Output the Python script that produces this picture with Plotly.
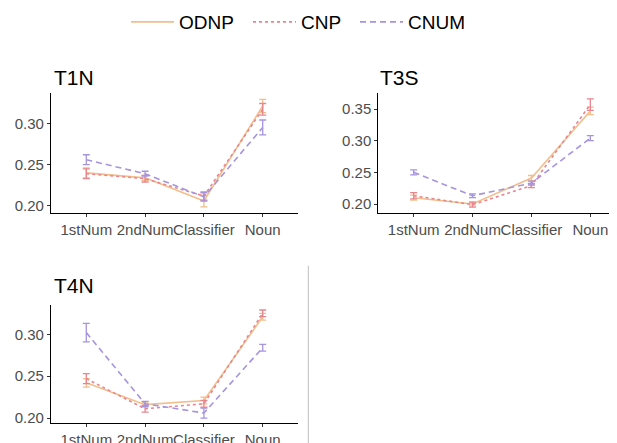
import plotly.graph_objects as go

categories = ["1stNum", "2ndNum", "Classifier", "Noun"]
series_names = ["ODNP", "CNP", "CNUM"]

# T1N
t1n_odnp = [0.240, 0.234, 0.206, 0.321]
t1n_odnp_se = [0.006, 0.003, 0.007, 0.008]
t1n_cnp = [0.239, 0.233, 0.212, 0.317]
t1n_cnp_se = [0.006, 0.004, 0.005, 0.007]
t1n_cnum = [0.256, 0.239, 0.211, 0.295]
t1n_cnum_se = [0.006, 0.003, 0.005, 0.009]

# T3S
t3s_odnp = [0.210, 0.200, 0.241, 0.347]
t3s_odnp_se = [0.004, 0.003, 0.004, 0.006]
t3s_cnp = [0.213, 0.199, 0.229, 0.357]
t3s_cnp_se = [0.005, 0.004, 0.003, 0.009]
t3s_cnum = [0.250, 0.213, 0.233, 0.304]
t3s_cnum_se = [0.004, 0.003, 0.003, 0.004]

# T4N
t4n_odnp = [0.242, 0.216, 0.221, 0.321]
t4n_odnp_se = [0.005, 0.003, 0.004, 0.004]
t4n_cnp = [0.247, 0.211, 0.217, 0.325]
t4n_cnp_se = [0.006, 0.004, 0.004, 0.004]
t4n_cnum = [0.302, 0.217, 0.206, 0.284]
t4n_cnum_se = [0.011, 0.003, 0.006, 0.004]

panel_titles = ["T1N", "T3S", "T4N"]

colors = {"ODNP": "#F3BE8B", "CNP": "#E8858F", "CNUM": "#A594DF"}
dashes = {"ODNP": "solid", "CNP": "3px,3px", "CNUM": "6px,4px"}
legend_ids = {"ODNP": "legend", "CNP": "legend2", "CNUM": "legend3"}

panels = [
    ({"ODNP": (t1n_odnp, t1n_odnp_se), "CNP": (t1n_cnp, t1n_cnp_se), "CNUM": (t1n_cnum, t1n_cnum_se)}, "x", "y"),
    ({"ODNP": (t3s_odnp, t3s_odnp_se), "CNP": (t3s_cnp, t3s_cnp_se), "CNUM": (t3s_cnum, t3s_cnum_se)}, "x2", "y2"),
    ({"ODNP": (t4n_odnp, t4n_odnp_se), "CNP": (t4n_cnp, t4n_cnp_se), "CNUM": (t4n_cnum, t4n_cnum_se)}, "x3", "y3"),
]

fig = go.Figure()
for pi, (data, xa, ya) in enumerate(panels):
    for name in series_names:
        vals, se = data[name]
        fig.add_trace(go.Scatter(
            x=categories, y=vals, xaxis=xa, yaxis=ya,
            mode="lines", name=name, showlegend=(pi == 0), legendgroup=name,
            legend=legend_ids[name],
            line=dict(color=colors[name], width=1.6, dash=dashes[name]),
            error_y=dict(type="data", array=se, visible=True, color=colors[name],
                         thickness=1.3, width=3.5),
        ))

W, H = 617, 443
OFF = 8  # page body margin
def px(x):
    return (x - OFF) / W
def py(y):
    return 1 - (y - OFF) / H

font_family = "Liberation Sans, Arial, sans-serif"
axis_common = dict(
    showline=True, linecolor="black", linewidth=1.1, showgrid=False, zeroline=False,
    ticks="outside", ticklen=3, tickcolor="#333333", tickwidth=1, tickangle=0,
    automargin=False,
    tickfont=dict(size=15, color="#4D4D4D", family=font_family),
)

legend_common = dict(orientation="h", xanchor="left", yanchor="top", y=1.0113,
                     font=dict(size=19, color="black", family=font_family),
                     itemwidth=43, bgcolor="rgba(0,0,0,0)")

fig.update_layout(
    width=W, height=H, margin=dict(l=0, r=0, t=0, b=0, autoexpand=False),
    paper_bgcolor="white", plot_bgcolor="white",
    font=dict(family=font_family),
    xaxis=dict(domain=[px(51), px(298)], anchor="y", type="category", range=[-0.6, 3.6], **axis_common),
    yaxis=dict(domain=[py(213), py(93)], anchor="x", range=[0.1915, 0.3367],
               tickvals=[0.20, 0.25, 0.30], ticktext=["0.20", "0.25", "0.30"], **axis_common),
    xaxis2=dict(domain=[px(378.3), px(617)], anchor="y2", type="category", range=[-0.6, 3.453], **axis_common),
    yaxis2=dict(domain=[py(213), py(93)], anchor="x2", range=[0.1858, 0.3753],
                tickvals=[0.20, 0.25, 0.30, 0.35], ticktext=["0.20", "0.25", "0.30", "0.35"], **axis_common),
    xaxis3=dict(domain=[px(51), px(298)], anchor="y3", type="category", range=[-0.6, 3.6], **axis_common),
    yaxis3=dict(domain=[py(423.3), py(305)], anchor="x3", range=[0.1937, 0.335],
                tickvals=[0.20, 0.25, 0.30], ticktext=["0.20", "0.25", "0.30"], **axis_common),
    legend=dict(x=px(126), **legend_common),
    legend2=dict(x=px(248), **legend_common),
    legend3=dict(x=px(355), **legend_common),
)

title_pos = [(52, 77), (378, 77), (52, 285)]
for t, (tx, ty) in zip(panel_titles, title_pos):
    fig.add_annotation(text=t, x=px(tx), y=py(ty), xref="paper", yref="paper",
                       xanchor="left", yanchor="middle", showarrow=False,
                       font=dict(size=21, color="black", family=font_family))

fig.add_shape(type="line", xref="paper", yref="paper",
              x0=px(308.3), x1=px(308.3), y0=py(265.7), y1=py(450),
              line=dict(color="#BEBEBE", width=1))

fig.write_html("out.html")
